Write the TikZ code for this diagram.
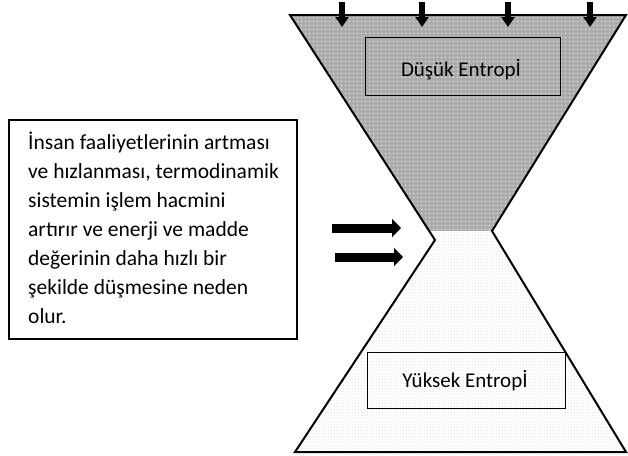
\documentclass[tikz,border=0pt]{standalone}
\usepackage{fontspec}
\setmainfont{Carlito}
\usetikzlibrary{arrows.meta,patterns.meta}

\tikzdeclarepattern{name=wdots,type=uncolored,
  bounding box={(0pt,0pt) and (4pt,4pt)},tile size={(4pt,4pt)},
  code={\fill (2pt,2pt) circle (0.7pt);}}
\tikzdeclarepattern{name=gdots,type=uncolored,
  bounding box={(0pt,0pt) and (3pt,3pt)},tile size={(3pt,3pt)},
  code={\fill (1.5pt,1.5pt) circle (0.65pt);}}

\definecolor{topgray}{RGB}{172,172,172}
\definecolor{dotgray}{RGB}{185,185,185}

\begin{document}
\begin{tikzpicture}[x=1pt,y=-1pt,
  txt/.style={font=\fontsize{21.5}{29}\selectfont, inner sep=0pt},
  lbltxt/.style={font=\fontsize{21}{29}\selectfont, inner sep=0pt},
  lblbox/.style={draw, line width=0.9pt, inner sep=0pt},
  bigarrow/.style={line width=9pt, -{Triangle[width=18pt,length=9pt]}},
  smallarrow/.style={line width=6pt, -{Triangle[width=13pt,length=10pt]}},
  outline/.style={draw, line width=2pt, line join=miter}]
\useasboundingbox (0,0) rectangle (628,455);

% hourglass corners
\coordinate (tl) at (290,15);
\coordinate (tr) at (626,15);
\coordinate (wl) at (429.2,231);
\coordinate (wr) at (492,231);
\coordinate (pl) at (435,240);
\coordinate (bl) at (295,452);
\coordinate (br) at (626,452);

% fills
\path[fill=topgray, postaction={pattern=wdots, pattern color=white!92!topgray}]
  (tl) -- (tr) -- (wr) -- (wl) -- cycle;
\path[fill=white, postaction={pattern=gdots, pattern color=dotgray}]
  (wl) -- (wr) -- (br) -- (bl) -- (pl) -- cycle;
% outline
\path[outline] (tl) -- (pl) -- (bl) -- (br) -- (wr) -- (tr) -- cycle;

% inner label boxes
\node[lblbox, minimum width=195pt, minimum height=58pt] (lowbox) at (462.5,66) {};
\node[lbltxt, anchor=base] (lowtxt) at (461,76) {Düşük Entropİ};
\node[lblbox, minimum width=198pt, minimum height=56pt] (highbox) at (466,380) {};
\node[lbltxt, anchor=base] (hightxt) at (465,387) {Yüksek Entropİ};

% top arrows
\foreach \x [count=\i] in {342,422,508,590}{
  \coordinate (as\i) at (\x,2);
  \coordinate (ae\i) at (\x,27);
  \draw[smallarrow] (as\i) -- (ae\i);
}

% left arrows
\coordinate (la1) at (332,228);
\coordinate (lb1) at (401,228);
\coordinate (la2) at (335,257);
\coordinate (lb2) at (403,257);
\draw[bigarrow] (la1) -- (lb1);
\draw[bigarrow] (la2) -- (lb2);

% left text box
\node[draw, line width=1.8pt, minimum width=288pt, minimum height=219pt] (textbox) at (153,229.5) {};
\node[txt, anchor=north west, align=left] (desc) at (28,128.7)
  {\strut İnsan faaliyetlerinin artması\\ve hızlanması, termodinamik\\sistemin işlem hacmini\\artırır ve enerji ve madde\\değerinin daha hızlı bir\\şekilde düşmesine neden\\olur.};
\end{tikzpicture}
\end{document}
